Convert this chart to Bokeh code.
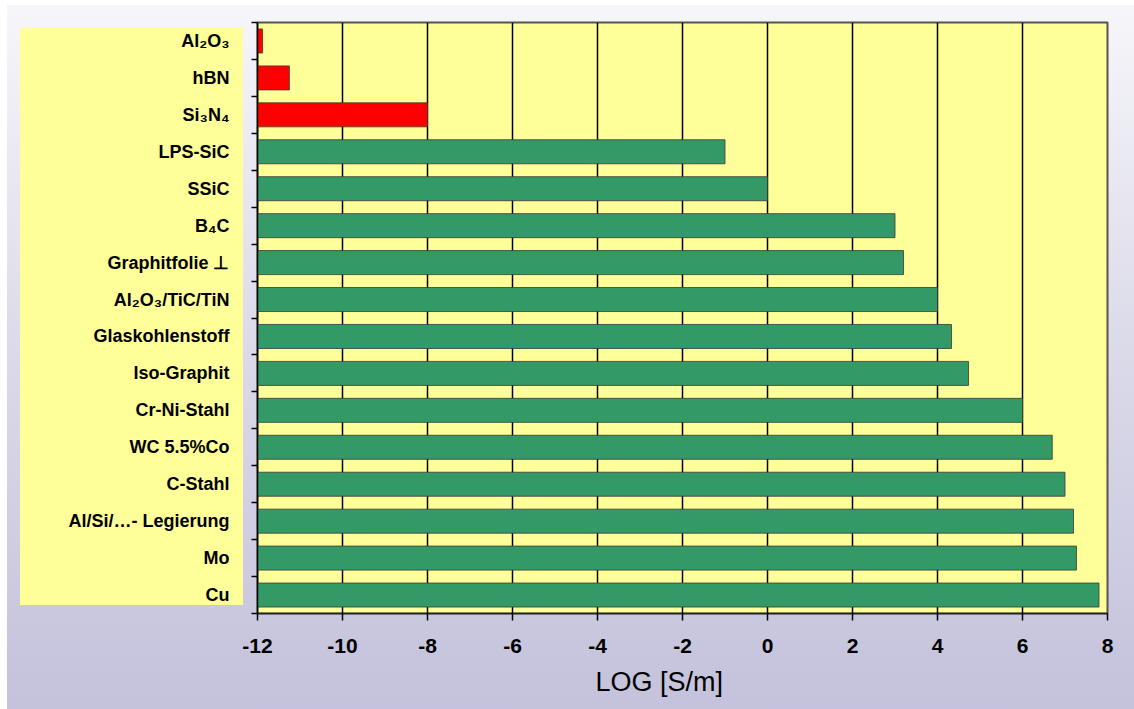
from bokeh.plotting import figure
from bokeh.models import FixedTicker, InlineStyleSheet, ColumnDataSource, Title
from bokeh.embed import file_html
from bokeh.resources import INLINE

materials = ["Al₂O₃", "hBN", "Si₃N₄", "LPS-SiC", "SSiC", "B₄C", "Graphitfolie ⊥",
             "Al₂O₃/TiC/TiN", "Glaskohlenstoff", "Iso-Graphit", "Cr-Ni-Stahl",
             "WC 5.5%Co", "C-Stahl", "Al/Si/…- Legierung", "Mo", "Cu"]
log_conductivity = [-11.88, -11.25, -8.0, -1.0, 0.0, 3.0, 3.2, 4.0, 4.33, 4.73,
                    6.0, 6.7, 7.0, 7.2, 7.27, 7.8]
insulator = [True, True, True] + [False] * 13
x_ticks = [-12, -10, -8, -6, -4, -2, 0, 2, 4, 6, 8]
x_tick_labels = ["-12", "-10", "-8", "-6", "-4", "-2", "0", "2", "4", "6", "8"]
x_title = "LOG [S/m]"

n = len(materials)
ypos = [n - 0.5 - i for i in range(n)]
colors = ["#FF0000" if ins else "#339966" for ins in insulator]
src = ColumnDataSource(dict(y=ypos, right=log_conductivity, color=colors))

p = figure(width=1134, height=709, output_backend="svg", toolbar_location=None,
           x_range=(-12, 8), y_range=(0, n),
           min_border_left=257, min_border_right=27, min_border_top=22, min_border_bottom=96)

p.border_fill_color = None
p.background_fill_color = "#FFFF99"
p.outline_line_color = "#555555"
p.outline_line_width = 2
p.stylesheets = [InlineStyleSheet(css=(
    ":host { background:"
    " linear-gradient(#FFFF99, #FFFF99) 20px 27px / 223px 578px no-repeat,"
    " linear-gradient(to bottom, #f6f6fa 0%, #dddcea 45%, #c4c2dc 100%) 7px 5px / calc(100% - 7px) calc(100% - 5px) no-repeat,"
    " #ffffff; }"))]

p.hbar(y="y", left=-12, right="right", height=0.65, fill_color="color",
       line_color="#3a3a3a", line_alpha=0.8, line_width=1, source=src)

# grid
p.xgrid.ticker = FixedTicker(ticks=x_ticks)
p.xgrid.grid_line_color = "black"
p.xgrid.grid_line_width = 1.5
p.ygrid.grid_line_color = None

# x axis
xa = p.xaxis[0]
xa.ticker = FixedTicker(ticks=x_ticks)
xa.major_label_overrides = {t: s for t, s in zip(x_ticks, x_tick_labels)}
xa.axis_line_color = "#222222"
xa.axis_line_width = 1.5
xa.major_tick_out = 7
xa.major_tick_in = 0
xa.major_tick_line_color = "black"
xa.major_tick_line_width = 1.5
xa.minor_tick_line_color = None
xa.major_label_standoff = 18
xa.major_label_text_font = "Liberation Sans"
xa.major_label_text_font_style = "bold"
xa.major_label_text_font_size = "21px"
xa.major_label_text_color = "black"

p.add_layout(Title(text=x_title, align="left", offset=338, standoff=18,
                   text_font="Liberation Sans", text_font_style="normal",
                   text_font_size="27px", text_color="black"), "below")

# y axis
ya = p.yaxis[0]
ya.ticker = FixedTicker(ticks=ypos, minor_ticks=list(range(n + 1)))
ya.major_label_overrides = {y: m for y, m in zip(ypos, materials)}
ya.axis_line_color = "black"
ya.axis_line_width = 1.5
ya.major_tick_out = 0
ya.major_tick_in = 0
ya.minor_tick_out = 6
ya.minor_tick_in = 0
ya.minor_tick_line_color = "black"
ya.minor_tick_line_width = 1.5
ya.major_label_standoff = 22
ya.major_label_text_font = "Liberation Sans"
ya.major_label_text_font_style = "bold"
ya.major_label_text_font_size = "18px"
ya.major_label_text_color = "black"

open("out.html", "w").write(file_html(p, INLINE))
